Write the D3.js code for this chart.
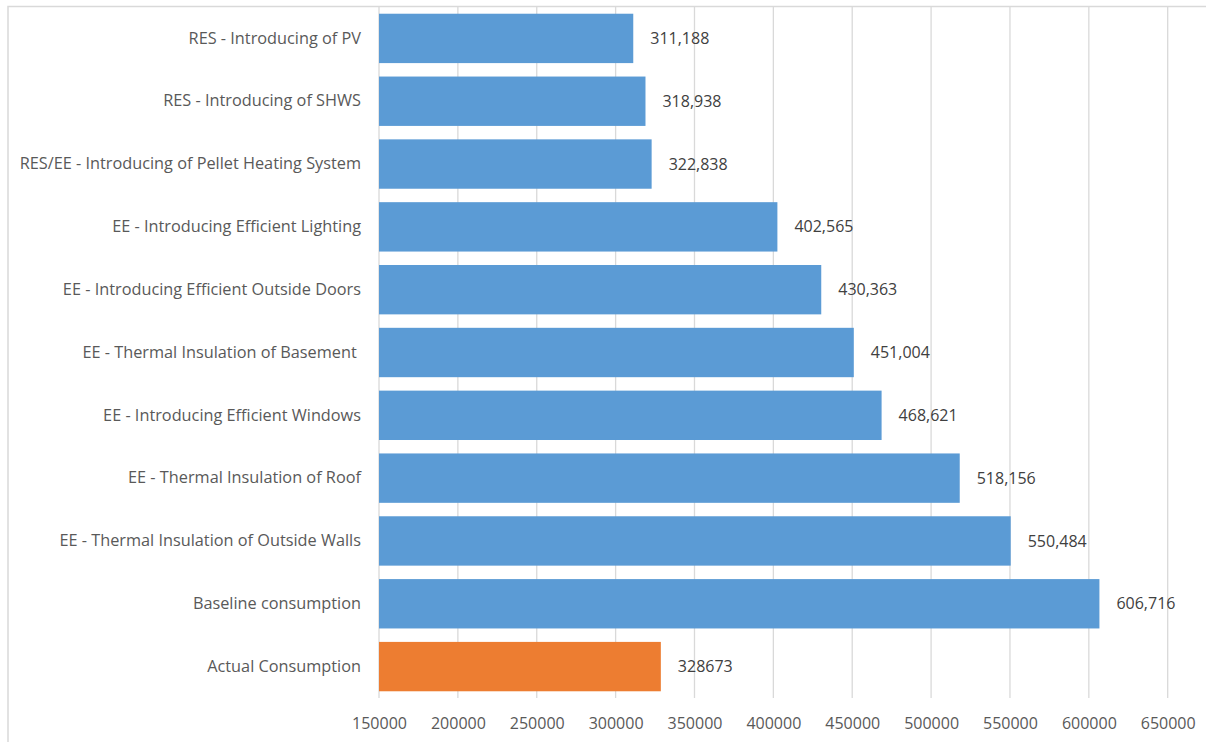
<!DOCTYPE html>
<html>
<head>
<meta charset="utf-8">
<script src="https://cdn.jsdelivr.net/npm/d3@7"></script>
<style>
  html, body { margin: 0; padding: 0; background: #fff; }
  svg { display: block; }
  text { font-family: "Open Sans", "Liberation Sans", sans-serif; white-space: pre; }
</style>
</head>
<body>
<svg id="chart" width="1206" height="742"></svg>
<script>
// Measures, listed top to bottom as they appear in the chart
const categories = [
  "RES - Introducing of PV",
  "RES - Introducing of SHWS",
  "RES/EE - Introducing of Pellet Heating System",
  "EE - Introducing Efficient Lighting",
  "EE - Introducing Efficient Outside Doors",
  "EE - Thermal Insulation of Basement ",
  "EE - Introducing Efficient Windows",
  "EE - Thermal Insulation of Roof",
  "EE - Thermal Insulation of Outside Walls",
  "Baseline consumption",
  "Actual Consumption"
];
const values = [311188, 318938, 322838, 402565, 430363, 451004, 468621, 518156, 550484, 606716, 328673];
const valueLabels = ["311,188", "318,938", "322,838", "402,565", "430,363", "451,004", "468,621", "518,156", "550,484", "606,716", "328673"];
const barKinds = ["scenario", "scenario", "scenario", "scenario", "scenario", "scenario", "scenario", "scenario", "scenario", "scenario", "actual"];
const xTicks = [150000, 200000, 250000, 300000, 350000, 400000, 450000, 500000, 550000, 600000, 650000];

const colors = { scenario: "#5B9BD5", actual: "#ED7D31" };

const svg = d3.select("#chart");

// Chart frame (open at right and bottom edges of the canvas)
svg.append("rect")
  .attr("x", 8).attr("y", 6.5)
  .attr("width", 1206).attr("height", 760)
  .attr("fill", "none")
  .attr("stroke", "#d9d9d9")
  .attr("stroke-width", 1.5);

const plot = { left: 379, right: 1167.7, top: 7, bottom: 698 };

const x = d3.scaleLinear()
  .domain([150000, 650000])
  .range([plot.left, plot.right]);

const y = d3.scaleBand()
  .domain(categories)
  .range([plot.top, plot.bottom])
  .paddingInner(0.214)
  .paddingOuter(0.107);

// Vertical gridlines
svg.append("g")
  .selectAll("line")
  .data(xTicks)
  .join("line")
  .attr("x1", d => x(d)).attr("x2", d => x(d))
  .attr("y1", plot.top).attr("y2", plot.bottom)
  .attr("stroke", "#d9d9d9")
  .attr("stroke-width", 1.3);

// Bottom axis labels
const xAxis = d3.axisBottom(x)
  .tickValues(xTicks)
  .tickFormat(d3.format("d"))
  .tickSize(0)
  .tickPadding(0);

const gx = svg.append("g")
  .attr("transform", `translate(0, ${plot.bottom + 19.5})`)
  .call(xAxis);
gx.select(".domain").remove();
gx.selectAll("text")
  .attr("font-family", "Open Sans, Liberation Sans, sans-serif")
  .attr("font-size", 16)
  .attr("fill", "#595959");

// Bars
svg.append("g")
  .selectAll("rect")
  .data(categories)
  .join("rect")
  .attr("x", x(150000))
  .attr("y", d => y(d))
  .attr("width", (d, i) => x(values[i]) - x(150000))
  .attr("height", y.bandwidth())
  .attr("fill", (d, i) => colors[barKinds[i]]);

// Category labels
const gy = svg.append("g")
  .attr("transform", `translate(${plot.left - 18}, 0)`)
  .call(d3.axisLeft(y).tickSize(0).tickPadding(0));
gy.select(".domain").remove();
gy.selectAll("text")
  .attr("font-family", "Open Sans, Liberation Sans, sans-serif")
  .attr("font-size", 16.3)
  .attr("fill", "#595959");

// Value labels
svg.append("g")
  .selectAll("text")
  .data(categories)
  .join("text")
  .attr("x", (d, i) => x(values[i]) + 17)
  .attr("y", d => y(d) + y.bandwidth() / 2)
  .attr("dy", "0.35em")
  .attr("font-size", 16)
  .attr("fill", "#404040")
  .text((d, i) => valueLabels[i]);
</script>
</body>
</html>
